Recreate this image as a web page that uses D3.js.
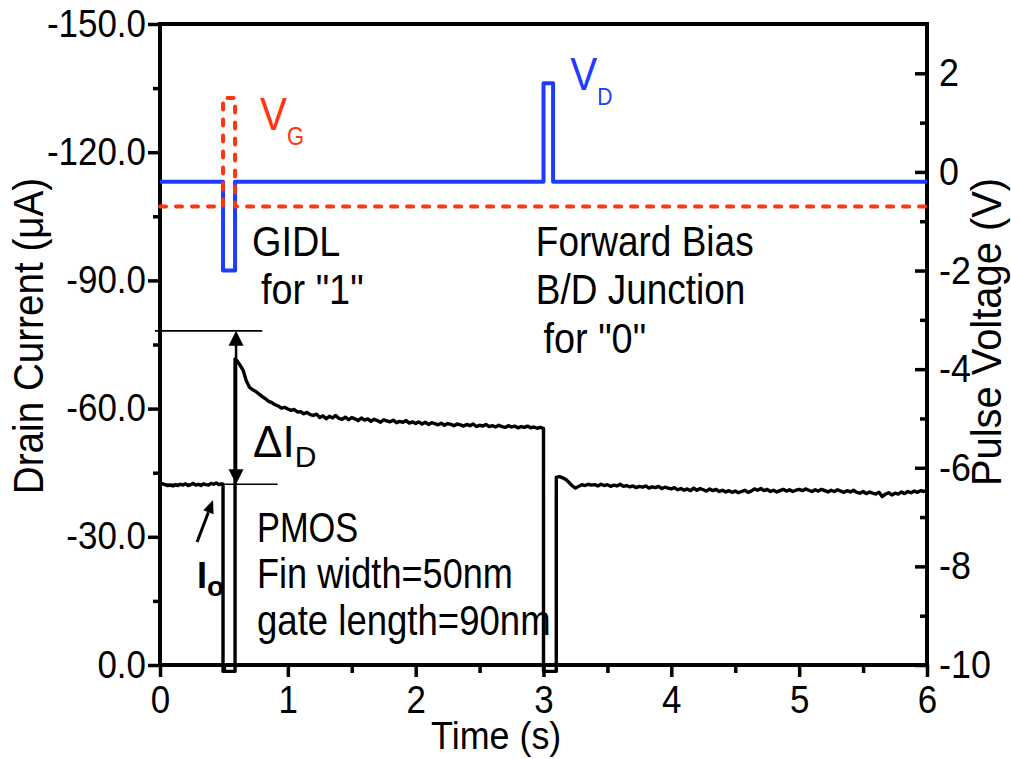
<!DOCTYPE html>
<html><head><meta charset="utf-8">
<script src="https://cdn.jsdelivr.net/npm/d3@7"></script>
<style>
body{margin:0;background:#fff;}
svg text{font-family:"Liberation Sans",Arial,sans-serif;fill:#000;}
</style></head><body>
<svg id="c" width="1011" height="759"></svg>
<script>
// ---------- data ----------
const timeTicks = [0,1,2,3,4,5,6];
const timeMinor = [0.5,1.5,2.5,3.5,4.5,5.5];
const currentTicks = [0,-30,-60,-90,-120,-150];
const currentMinor = [-15,-45,-75,-105,-135];
const voltTicks = [2,0,-2,-4,-6,-8,-10];
const voltMinor = [1,-1,-3,-5,-7,-9];

// drain current (uA), [time s, current]
const currentHold0 = [[0,-42.6],[0.02,-42.4],[0.04,-42.2],[0.06,-42.0],[0.08,-42.1],[0.10,-41.9],[0.12,-42.2],[0.14,-42.0],[0.16,-42.3],[0.18,-42.1],[0.20,-42.4],[0.22,-42.0],[0.24,-42.2],[0.26,-42.5],[0.28,-42.1],[0.30,-42.3],[0.32,-42.0],[0.34,-42.4],[0.36,-42.2],[0.38,-42.1],[0.40,-42.5],[0.42,-42.3],[0.44,-42.6],[0.46,-42.2],[0.48,-42.4],[0.493,-42.3]];
const currentWritePulse = [[0.493,1.5],[0.587,1.5]];
const currentHold1 = [[0.587,-71.6],[0.600,-71.3],[0.625,-70.2],[0.650,-69.0],[0.675,-66.5],[0.700,-65.0],[0.725,-64.4],[0.750,-64.0],[0.775,-63.4],[0.800,-62.8],[0.825,-62.3],[0.850,-61.7],[0.875,-61.4],[0.900,-60.9],[0.925,-60.6],[0.950,-60.1],[0.975,-60.3],[1.000,-59.9],[1.025,-59.6],[1.050,-59.8],[1.075,-59.2],[1.100,-59.3],[1.125,-58.8],[1.150,-59.1],[1.175,-58.6],[1.200,-58.4],[1.225,-58.7],[1.250,-57.9],[1.275,-58.3],[1.300,-57.6],[1.325,-58.2],[1.350,-57.8],[1.375,-58.4],[1.400,-57.7],[1.425,-57.5],[1.450,-58.0],[1.475,-57.4],[1.500,-57.9],[1.525,-57.6],[1.550,-57.2],[1.575,-57.8],[1.600,-57.3],[1.625,-57.6],[1.650,-57.0],[1.675,-57.5],[1.700,-57.2],[1.725,-56.8],[1.750,-57.4],[1.775,-57.1],[1.800,-56.9],[1.825,-57.3],[1.850,-56.7],[1.875,-57.0],[1.900,-56.8],[1.925,-57.2],[1.950,-56.6],[1.975,-56.9],[2.000,-56.5],[2.025,-56.9],[2.050,-56.4],[2.075,-56.8],[2.100,-56.3],[2.125,-56.7],[2.150,-56.5],[2.175,-56.2],[2.200,-56.6],[2.225,-56.1],[2.250,-56.5],[2.275,-56.3],[2.300,-56.0],[2.325,-56.4],[2.350,-56.2],[2.375,-55.9],[2.400,-56.3],[2.425,-56.0],[2.450,-56.4],[2.475,-55.8],[2.500,-56.1],[2.525,-55.9],[2.550,-56.3],[2.575,-55.8],[2.600,-56.0],[2.625,-55.7],[2.650,-56.1],[2.675,-55.8],[2.700,-55.6],[2.725,-56.0],[2.750,-55.7],[2.775,-55.9],[2.800,-55.5],[2.825,-55.8],[2.850,-55.6],[2.875,-55.9],[2.900,-55.5],[2.925,-55.7],[2.950,-55.4],[2.975,-55.6],[3.000,-55.3]];
const currentErasePulse = [[3.0,1.5],[3.1,1.5]];
const currentHold2 = [[3.100,-43.9],[3.125,-44.1],[3.150,-43.8],[3.175,-43.4],[3.200,-42.7],[3.225,-41.9],[3.250,-41.4],[3.275,-41.8],[3.300,-42.2],[3.325,-42.0],[3.350,-42.3],[3.375,-42.1],[3.400,-42.2],[3.425,-41.9],[3.450,-42.3],[3.475,-42.0],[3.500,-42.2],[3.525,-41.8],[3.550,-42.1],[3.575,-41.9],[3.600,-42.3],[3.625,-41.8],[3.650,-42.0],[3.675,-41.7],[3.700,-41.9],[3.725,-41.5],[3.750,-41.8],[3.775,-41.6],[3.800,-41.9],[3.825,-41.4],[3.850,-41.7],[3.875,-41.5],[3.900,-41.8],[3.925,-41.3],[3.950,-41.6],[3.975,-41.4],[4.000,-41.2],[4.025,-41.5],[4.050,-41.0],[4.075,-41.3],[4.100,-40.9],[4.125,-41.2],[4.150,-40.8],[4.175,-41.4],[4.200,-40.9],[4.225,-41.3],[4.250,-41.0],[4.275,-40.7],[4.300,-41.2],[4.325,-40.8],[4.350,-41.1],[4.375,-40.6],[4.400,-40.9],[4.425,-40.5],[4.450,-40.8],[4.475,-40.4],[4.500,-40.7],[4.525,-40.3],[4.550,-40.6],[4.575,-40.9],[4.600,-40.4],[4.625,-40.7],[4.650,-41.2],[4.675,-40.9],[4.700,-41.3],[4.725,-40.8],[4.750,-41.1],[4.775,-40.6],[4.800,-40.9],[4.825,-40.5],[4.850,-40.8],[4.875,-41.1],[4.900,-40.7],[4.925,-41.0],[4.950,-40.6],[4.975,-40.9],[5.000,-41.1],[5.025,-40.8],[5.050,-41.2],[5.075,-40.9],[5.100,-40.6],[5.125,-41.0],[5.150,-40.7],[5.175,-41.1],[5.200,-40.8],[5.225,-40.5],[5.250,-40.9],[5.275,-40.6],[5.300,-41.0],[5.325,-40.7],[5.350,-40.4],[5.375,-40.8],[5.400,-40.5],[5.425,-40.9],[5.450,-40.4],[5.475,-40.2],[5.500,-40.6],[5.525,-40.1],[5.550,-40.5],[5.575,-40.2],[5.600,-40.0],[5.625,-40.4],[5.650,-39.4],[5.675,-40.0],[5.700,-40.3],[5.725,-39.8],[5.750,-40.2],[5.775,-40.0],[5.800,-40.5],[5.825,-40.1],[5.850,-40.6],[5.875,-40.3],[5.900,-40.7],[5.925,-40.4],[5.950,-40.8],[5.975,-40.6],[6.000,-40.9]];

// pulse voltages (V)
const drainPulse = [[0,-0.2],[0.493,-0.2],[0.493,-2.0],[0.587,-2.0],[0.587,-0.2],[3.0,-0.2],[3.0,1.8],[3.075,1.8],[3.075,-0.2],[6,-0.2]];
const gatePulse = [[0,-0.7],[0.493,-0.7],[0.493,1.5],[0.587,1.5],[0.587,-0.7],[6,-0.7]];

// annotation anchors in (time, current) space
const deltaArrow = {t:0.595, top:-78.2, bottom:-42.3};
const deltaLines = [{t0:-0.04,t1:0.80,v:-78.2},{t0:0,t1:0.92,v:-42.3}];
const ioArrow = {t0:0.29, v0:-28.8, t1:0.415, v1:-38.6};

// ---------- drawing ----------
const svg = d3.select("#c");
const x = d3.scaleLinear().domain([0,6]).range([160,927]);
const yI = d3.scaleLinear().domain([0,-150]).range([665,24]);
const yV = d3.scaleLinear().domain([-10,3]).range([665,24]);
const KT = 0.92; // horizontal squeeze for a narrow look

function styleAxis(g, fs){
  g.attr("font-family",null).attr("font-size",null);
  g.select(".domain").remove();
  g.selectAll(".tick line").attr("stroke","#000").attr("stroke-width",3.5);
  g.selectAll(".tick text").attr("font-size",fs).each(function(){
    const t = d3.select(this);
    const tx = +t.attr("x")||0;
    t.attr("x",0).attr("transform",`translate(${tx},0) scale(${KT},1)`);
  });
}
// x axis
svg.append("g").attr("transform","translate(0,665)")
  .call(d3.axisBottom(x).tickValues(timeTicks).tickFormat(d=>String(d)).tickSize(12).tickPadding(9))
  .call(g=>styleAxis(g,38));
svg.append("g").attr("transform","translate(0,665)")
  .call(d3.axisBottom(x).tickValues(timeMinor).tickFormat("").tickSize(8))
  .call(g=>styleAxis(g,38));
// left axis
svg.append("g").attr("transform","translate(160,0)")
  .call(d3.axisLeft(yI).tickValues(currentTicks).tickFormat(d=>d.toFixed(1)).tickSize(12).tickPadding(2))
  .call(g=>styleAxis(g,38));
svg.append("g").attr("transform","translate(160,0)")
  .call(d3.axisLeft(yI).tickValues(currentMinor).tickFormat("").tickSize(7))
  .call(g=>styleAxis(g,38));
// right axis (ticks inward)
svg.append("g").attr("transform","translate(927,0)")
  .call(d3.axisRight(yV).tickValues(voltTicks).tickFormat(d=>String(d)).tickSize(-12).tickPadding(12))
  .call(g=>styleAxis(g,39));
svg.append("g").attr("transform","translate(927,0)")
  .call(d3.axisRight(yV).tickValues(voltMinor).tickFormat("").tickSize(-7))
  .call(g=>styleAxis(g,39));

// frame
svg.append("path").attr("fill","none").attr("stroke","#000").attr("stroke-width",4).attr("stroke-linecap","square")
  .attr("d",`M${x(0)},${yI(0)}V${yI(-150)}H${x(6)}V${yI(0)}Z`);

// pulse lines
const lineV = d3.line().x(d=>x(d[0])).y(d=>yV(d[1]));
svg.append("path").datum(drainPulse).attr("d",lineV).attr("fill","none")
  .attr("stroke","#1e3cff").attr("stroke-width",4).attr("stroke-linejoin","round");
svg.append("path").datum(gatePulse).attr("d",lineV).attr("fill","none")
  .attr("stroke","#ff3512").attr("stroke-width",4).attr("stroke-dasharray","6 10").attr("stroke-linecap","round").attr("stroke-linejoin","round");

// drain current trace
const trace = [].concat(currentHold0,currentWritePulse,currentHold1,currentErasePulse,currentHold2);
const lineI = d3.line().x(d=>x(d[0])).y(d=>yI(d[1]));
svg.append("path").datum(trace).attr("d",lineI).attr("fill","none")
  .attr("stroke","#000").attr("stroke-width",3.4).attr("stroke-linejoin","round");

// delta I annotation
deltaLines.forEach(l=>{
  svg.append("line").attr("x1",x(l.t0)).attr("x2",x(l.t1)).attr("y1",yI(l.v)).attr("y2",yI(l.v))
    .attr("stroke","#000").attr("stroke-width",1.6);
});
const ax = x(deltaArrow.t), ayT = yI(deltaArrow.top), ayB = yI(deltaArrow.bottom);
svg.append("line").attr("x1",ax).attr("x2",ax).attr("y1",ayT+10).attr("y2",ayB-10).attr("stroke","#000").attr("stroke-width",2.5);
svg.append("path").attr("d",`M${ax},${ayT}L${ax-7.5},${ayT+15}L${ax+7.5},${ayT+15}Z`).attr("fill","#000");
svg.append("path").attr("d",`M${ax},${ayB}L${ax-7.5},${ayB-15}L${ax+7.5},${ayB-15}Z`).attr("fill","#000");

// Io arrow
{
  const x0=x(ioArrow.t0), y0=yI(ioArrow.v0), x1=x(ioArrow.t1), y1=yI(ioArrow.v1);
  const ang=Math.atan2(y1-y0,x1-x0), L=13, W=5.5;
  const bx=x1-L*Math.cos(ang), by=y1-L*Math.sin(ang);
  svg.append("line").attr("x1",x0).attr("y1",y0).attr("x2",bx).attr("y2",by).attr("stroke","#000").attr("stroke-width",3);
  svg.append("path").attr("fill","#000")
    .attr("d",`M${x1},${y1}L${bx+W*Math.sin(ang)},${by-W*Math.cos(ang)}L${bx-W*Math.sin(ang)},${by+W*Math.cos(ang)}Z`);
}

// texts
function label(t,v,parts,opts={}){
  const k = opts.k||0.88;
  const tx = svg.append("text").attr("transform",`translate(${x(t)},${yI(v)}) scale(${k},1)`)
    .attr("font-size",opts.fs||43).style("fill",opts.color||"#000").attr("xml:space","preserve");
  parts.forEach(p=>{
    const s = tx.append("tspan").text(p.s);
    if(p.sub){ s.attr("font-size",p.sub).attr("dy",p.dy); }
    if(p.bold) s.attr("font-weight","bold");
    if(p.dx) s.attr("dx",p.dx);
  });
  return tx;
}
label(0.782,-125.2,[{s:"V"},{s:"G",sub:25,dy:15}],{color:"#ff3512",fs:46});
label(3.21,-134.6,[{s:"V"},{s:"D",sub:24,dy:15}],{color:"#1e3cff",fs:46});
label(0.72,-95.6,[{s:"GIDL"}]);
label(0.79,-84.4,[{s:"for \"1\""}]);
label(2.94,-95.6,[{s:"Forward Bias"}],{k:0.86});
label(2.94,-84.4,[{s:"B/D Junction"}],{k:0.86});
label(3.0,-72.9,[{s:"for \"0\""}]);
label(0.728,-48.7,[{s:"\u0394I"},{s:"D",sub:30,dy:10}],{fs:44,k:1});
label(0.759,-28.8,[{s:"PMOS"}],{k:0.8});
label(0.759,-18.0,[{s:"Fin width=50nm"}],{k:0.84});
label(0.759,-7.0,[{s:"gate length=90nm"}],{k:0.85});
label(0.29,-18.0,[{s:"I",bold:true},{s:"o",sub:28,dy:8,bold:true}],{fs:36,k:1});

// axis titles
svg.append("text").attr("transform",`translate(43,336) rotate(-90) scale(${KT},1)`).attr("text-anchor","middle")
  .attr("font-size",42).text("Drain Current (\u03bcA)");
svg.append("text").attr("transform",`translate(1001,332) rotate(-90) scale(0.95,1)`).attr("text-anchor","middle")
  .attr("font-size",42).text("Pulse Voltage (V)");
svg.append("text").attr("transform",`translate(${x(2.63)},749) scale(${KT},1)`).attr("text-anchor","middle")
  .attr("font-size",39).text("Time (s)");
</script>
</body></html>
